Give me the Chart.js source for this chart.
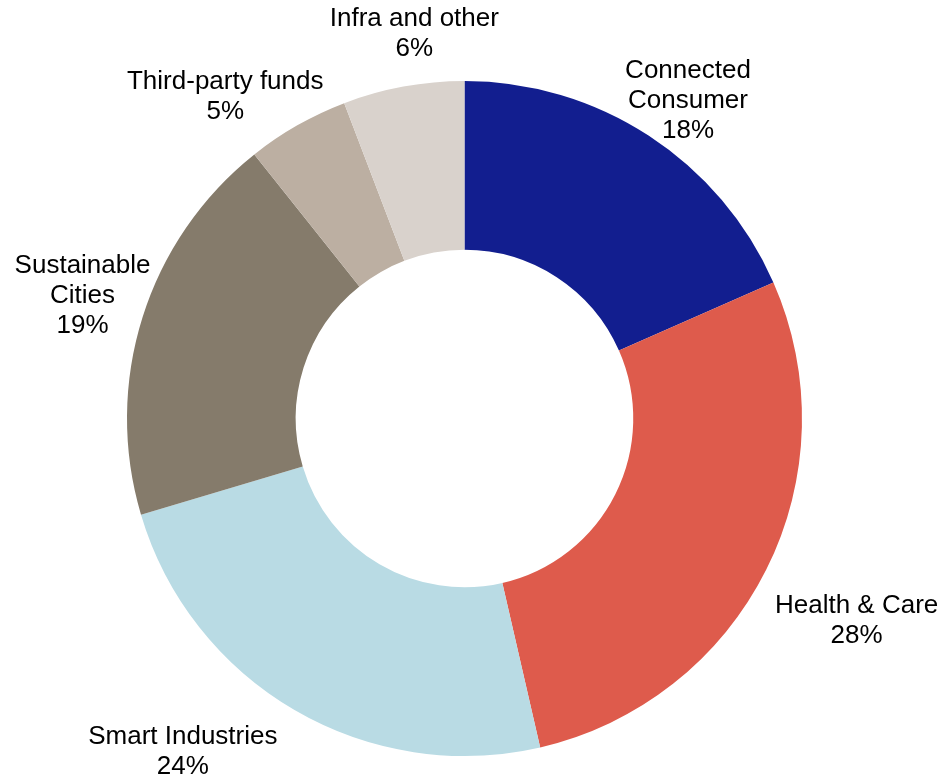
<!DOCTYPE html>
<html>
<head>
<meta charset="utf-8">
<script src="https://cdn.jsdelivr.net/npm/chart.js@4/dist/chart.umd.min.js"></script>
<style>
  html, body { margin: 0; padding: 0; background: #ffffff; }
  #wrap { width: 945px; height: 779px; }
</style>
</head>
<body>
<div id="wrap"><canvas id="c" width="945" height="779"></canvas></div>
<script>
// ---- data ----
const categories = [
  ["Connected", "Consumer"],
  "Health & Care",
  "Smart Industries",
  ["Sustainable", "Cities"],
  "Third-party funds",
  "Infra and other"
];
// slice shares (labels show them rounded)
const shares = [18.4, 28.0, 24.0, 18.9, 4.9, 5.8];
const sliceColors = ["#121E8F", "#DE5B4C", "#B9DBE4", "#857B6B", "#BCAFA2", "#D9D2CC"];

// label placement relative to each slice's mid-angle (degrees nudge, radius factor)
const labelPlacement = [
  { dAngle: 2.0, rf: 1.151 },
  { dAngle: 0.7, rf: 1.308 },
  { dAngle: 10.0, rf: 1.292 },
  { dAngle: 0.4, rf: 1.189 },
  { dAngle: -6.9, rf: 1.189 },
  { dAngle: 3.0, rf: 1.148 }
];

const outsideLabels = {
  id: 'outsideLabels',
  afterDatasetsDraw(chart) {
    const ctx = chart.ctx;
    const meta = chart.getDatasetMeta(0);
    const ds = chart.data.datasets[0];
    ctx.save();
    ctx.font = '26px "Liberation Sans", Arial, sans-serif';
    ctx.fillStyle = '#000000';
    ctx.textAlign = 'center';
    ctx.textBaseline = 'middle';
    const lineH = 30;
    meta.data.forEach((arc, i) => {
      const p = arc.getProps(['x', 'y', 'startAngle', 'endAngle', 'outerRadius'], true);
      const place = labelPlacement[i];
      const mid = (p.startAngle + p.endAngle) / 2 + place.dAngle * Math.PI / 180;
      const r = p.outerRadius * place.rf;
      const cx = p.x + Math.cos(mid) * r;
      const cy = p.y + Math.sin(mid) * r;
      const lab = chart.data.labels[i];
      const lines = (Array.isArray(lab) ? lab.slice() : [lab]);
      lines.push(Math.round(ds.data[i]) + '%');
      const top = cy - (lines.length - 1) * lineH / 2;
      lines.forEach((t, k) => ctx.fillText(t, cx, top + k * lineH));
    });
    ctx.restore();
  }
};

new Chart(document.getElementById('c'), {
  type: 'doughnut',
  data: {
    labels: categories,
    datasets: [{
      data: shares,
      backgroundColor: sliceColors,
      borderWidth: 0,
      hoverOffset: 0
    }]
  },
  options: {
    responsive: false,
    animation: false,
    cutout: '50%',
    layout: { padding: { left: 127, right: 143, top: 81, bottom: 23 } },
    plugins: {
      legend: { display: false },
      tooltip: { enabled: false }
    }
  },
  plugins: [outsideLabels]
});
</script>
</body>
</html>
